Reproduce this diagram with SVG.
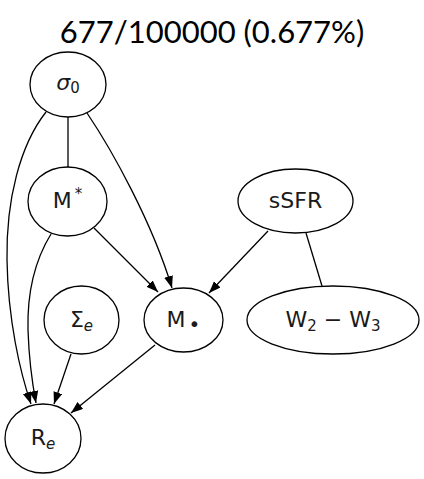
<svg xmlns="http://www.w3.org/2000/svg" width="424" height="479" viewBox="0 0 424 479">
<defs>
<marker id="arr" markerUnits="userSpaceOnUse" markerWidth="13" markerHeight="10" refX="12" refY="4.5" orient="auto">
<path d="M0,0 L12,4.5 L0,9 z" fill="#000"/>
</marker>
<style>
.n{fill:#fff;stroke:#000;stroke-width:1.3}
.e{fill:none;stroke:#000;stroke-width:1.3}
.a{marker-end:url(#arr)}
.t{font-family:"DejaVu Sans",sans-serif;font-size:22px;fill:#1a1a1a;text-anchor:middle}
.s{font-size:15px}
.i{font-style:italic}
.title{font-family:Lato,"DejaVu Sans",sans-serif;font-size:31px;fill:#000;text-anchor:middle}
</style>
</defs>
<rect width="424" height="479" fill="#fff"/>
<text class="title" x="212" y="43">677/100000 (0.677%)</text>
<g id="edges">
<path class="e" d="M68,117 L68,167"/>
<path class="e a" d="M46,112 C20,145 6,200 7,260 C8,320 20,372 31,404"/>
<path class="e a" d="M51,234 C35,260 27,290 28,330 C29,360 32,382 36,403"/>
<path class="e a" d="M87,113 C112,150 152,222 172,288"/>
<path class="e a" d="M94,228 L158,292"/>
<path class="e a" d="M268,231 L209,293"/>
<path class="e" d="M306,233 L322,286"/>
<path class="e a" d="M71,354 L54,404"/>
<path class="e a" d="M155,345 L71,413"/>
</g>
<g id="sigma0">
<ellipse class="n" cx="68" cy="84.5" rx="38" ry="32.5"/>
<text class="t" x="68" y="90"><tspan class="i">σ</tspan><tspan class="s" dy="3">0</tspan></text>
</g>
<g id="Mstar">
<ellipse class="n" cx="67.5" cy="201.5" rx="39.5" ry="34.5"/>
<text class="t" x="67.5" y="208">M<tspan class="s" dx="3" dy="-9">*</tspan></text>
</g>
<g id="sSFR">
<ellipse class="n" cx="295.5" cy="201" rx="57.5" ry="32"/>
<text class="t" x="295.5" y="208">sSFR</text>
</g>
<g id="Sigmae">
<ellipse class="n" cx="81.5" cy="320" rx="37.5" ry="34"/>
<text class="t" x="81.5" y="327">Σ<tspan class="s i" dy="4">e</tspan></text>
</g>
<g id="Mbullet">
<ellipse class="n" cx="183.5" cy="320" rx="39.5" ry="32"/>
<text class="t" x="183.5" y="327">M<tspan style="font-size:20px" dx="3" dy="4">•</tspan></text>
</g>
<g id="W2W3">
<ellipse class="n" cx="333" cy="320" rx="86" ry="34"/>
<text class="t" x="333" y="327">W<tspan class="s" dy="4">2</tspan><tspan dy="-4"> − </tspan>W<tspan class="s" dy="4">3</tspan></text>
</g>
<g id="Re">
<ellipse class="n" cx="43" cy="438.5" rx="38" ry="34.5"/>
<text class="t" x="43" y="445">R<tspan class="s i" dy="4">e</tspan></text>
</g>
</svg>
